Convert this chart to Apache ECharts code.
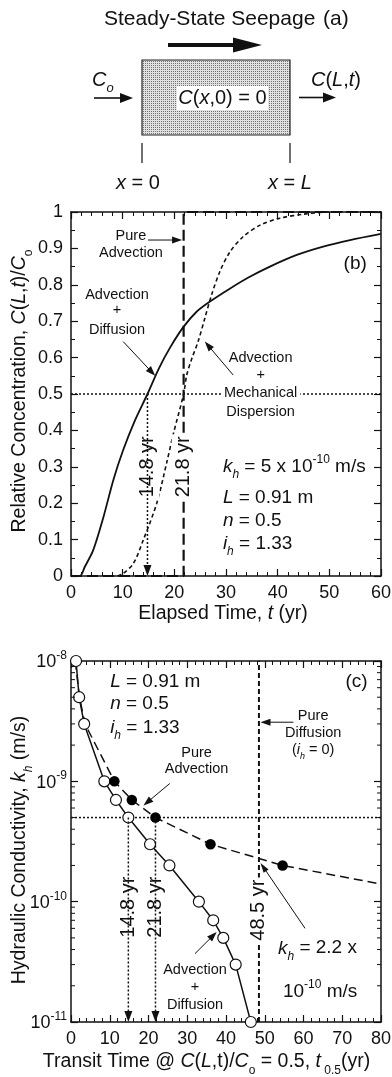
<!DOCTYPE html>
<html>
<head>
<meta charset="utf-8">
<script src="https://cdn.jsdelivr.net/npm/echarts@6/dist/echarts.min.js"></script>
<style>
  html, body { margin: 0; padding: 0; background: #fff; }
  #chart { width: 392px; height: 1077px; }
</style>
</head>
<body>
<div id="chart"></div>
<script>
const FONT = '"Liberation Sans", Arial, Helvetica, sans-serif';
const INK = '#111';

// ---- Panel (b): breakthrough curves, elapsed time (yr) vs C(L,t)/Co ----
const tAdvDiff = [0, 1.7, 2.7, 4.3, 6.3, 8.2, 10.1, 12.3, 14.8, 17.0, 19.2, 21.7, 24.3, 26.9, 30.8, 34.6, 38.5, 43.7, 48.8, 54.0, 60.0];
const cAdvDiff = [0, 0, 0.026, 0.071, 0.163, 0.264, 0.346, 0.425, 0.5, 0.57, 0.628, 0.683, 0.726, 0.754, 0.79, 0.822, 0.85, 0.882, 0.905, 0.923, 0.94];
const tAdvDisp = [9.0, 10.1, 12.1, 14.0, 16.6, 18.5, 19.8, 21.8, 22.4, 23.4, 24.6, 25.9, 27.2, 28.8, 30.8, 33.3, 36.6, 40.4, 45.0, 50.0, 60.0];
const cAdvDisp = [0, 0.007, 0.035, 0.099, 0.2, 0.31, 0.39, 0.5, 0.552, 0.598, 0.644, 0.708, 0.772, 0.836, 0.891, 0.932, 0.964, 0.983, 0.994, 1.0, 1.0];
const tPureAdvB = [0, 21.8, 21.8, 60];
const cPureAdvB = [0, 0, 1, 1];
const halfLevel = 0.5;
const tHalfDiff = 14.8;   // advection + diffusion
const tHalfAdv = 21.8;    // pure advection

// ---- Panel (c): hydraulic conductivity (m/s) vs transit time t0.5 (yr) ----
const tOpen = [1.3, 2.1, 3.4, 8.6, 11.6, 14.8, 20.4, 25.4, 33.0, 36.7, 39.3, 42.5, 46.4];
const kOpen = [1e-8, 5e-9, 3e-9, 1e-9, 7e-10, 5e-10, 3e-10, 2e-10, 1e-10, 7e-11, 5e-11, 3e-11, 1e-11];
const tFilled = [11.2, 15.7, 21.8, 36.0, 54.6];
const kFilled = [1e-9, 7e-10, 5e-10, 3e-10, 2e-10];
const tAdvLine = [1.1, 2.2, 3.6, 11.2, 15.7, 21.8, 36.0, 54.6, 80];
const kAdvLine = [1e-8, 5e-9, 3e-9, 1e-9, 7e-10, 5e-10, 3e-10, 2e-10, 1.4e-10];
const tPureDiff = 48.5;
const kRef = 5e-10;
const kDecades = [1e-11, 1e-10, 1e-9, 1e-8];
const kDecadeExp = ['-11', '-10', '-9', '-8'];
const minorMantissa = [2, 3, 4, 5, 6, 7, 8, 9];
const kMinor = [];
[1e-11, 1e-10, 1e-9].forEach(d => minorMantissa.forEach(m => kMinor.push(m * d)));

const zip = (a, b) => a.map((v, i) => [v, b[i]]);

function xAxisOpt(grid, pos, max, showLabel) {
  return {
    type: 'value', gridIndex: grid, position: pos, min: 0, max: max, interval: 10,
    axisLine: { show: true, onZero: false, lineStyle: { color: INK, width: 1.5 } },
    axisTick: { show: true, inside: true, length: 7, lineStyle: { color: INK, width: 1.2 } },
    minorTick: { show: true, splitNumber: 5, length: 4, lineStyle: { color: INK, width: 1 } },
    splitLine: { show: false }, minorSplitLine: { show: false },
    axisLabel: { show: showLabel, margin: 8, fontSize: 18, fontFamily: FONT, color: INK }
  };
}
function yAxisB(pos, showLabel) {
  return {
    type: 'value', gridIndex: 0, position: pos, min: 0, max: 1, interval: 0.1,
    axisLine: { show: true, onZero: false, lineStyle: { color: INK, width: 1.5 } },
    axisTick: { show: true, inside: true, length: 7, lineStyle: { color: INK, width: 1.2 } },
    minorTick: { show: true, splitNumber: 2, length: 4, lineStyle: { color: INK, width: 1 } },
    splitLine: { show: false }, minorSplitLine: { show: false },
    axisLabel: { show: showLabel, margin: 8, fontSize: 18, fontFamily: FONT, color: INK }
  };
}
function yAxisC(pos) {
  return {
    type: 'log', logBase: 10, gridIndex: 1, position: pos, min: 1e-11, max: 1e-8,
    axisLine: { show: true, onZero: false, lineStyle: { color: INK, width: 1.5 } },
    axisTick: { show: true, inside: true, length: 7, lineStyle: { color: INK, width: 1.2 } },
    minorTick: { show: false },
    splitLine: { show: false }, minorSplitLine: { show: false },
    axisLabel: { show: false }
  };
}

const chart = echarts.init(document.getElementById('chart'), null, { renderer: 'canvas', width: 392, height: 1077 });

chart.setOption({
  animation: false,
  backgroundColor: '#fff',
  grid: [
    { left: 71, top: 212, width: 310, height: 364, outerBoundsMode: 'none' },
    { left: 71, top: 661, width: 310, height: 361, outerBoundsMode: 'none' }
  ],
  xAxis: [xAxisOpt(0, 'bottom', 60, true), xAxisOpt(0, 'top', 60, false),
          xAxisOpt(1, 'bottom', 80, true), xAxisOpt(1, 'top', 80, false)],
  yAxis: [yAxisB('left', true), yAxisB('right', false), yAxisC('left'), yAxisC('right')],
  series: [
    // (b) advection + diffusion
    { type: 'line', xAxisIndex: 0, yAxisIndex: 0, data: zip(tAdvDiff, cAdvDiff), symbol: 'none',
      smooth: 0.3, clip: false, z: 5, lineStyle: { color: INK, width: 1.8 } },
    // (b) advection + mechanical dispersion
    { type: 'line', xAxisIndex: 0, yAxisIndex: 0, data: zip(tAdvDisp, cAdvDisp), symbol: 'none',
      smooth: 0.3, clip: false, z: 5, lineStyle: { color: INK, width: 1.6, type: [4, 3] } },
    // (b) pure advection step
    { type: 'line', xAxisIndex: 0, yAxisIndex: 0, data: zip(tPureAdvB, cPureAdvB), symbol: 'none',
      clip: false, z: 4, lineStyle: { color: INK, width: 2.2, type: [11, 5] } },
    // (b) C/Co = 0.5 reference
    { type: 'line', xAxisIndex: 0, yAxisIndex: 0, data: [[0, halfLevel], [60, halfLevel]], symbol: 'none',
      z: 3, lineStyle: { color: INK, width: 1.5, type: [2, 2] } },
    // (c) pure advection (dashed, filled markers)
    { type: 'line', xAxisIndex: 2, yAxisIndex: 2, data: zip(tAdvLine, kAdvLine), symbol: 'none',
      clip: false, z: 4, lineStyle: { color: INK, width: 1.5, type: [9, 5] } },
    { type: 'scatter', xAxisIndex: 2, yAxisIndex: 2, data: zip(tFilled, kFilled), symbol: 'circle',
      symbolSize: 10.5, clip: false, z: 7, itemStyle: { color: '#000', opacity: 1 } },
    // (c) advection + diffusion (solid, open markers)
    { type: 'line', xAxisIndex: 2, yAxisIndex: 2, data: zip(tOpen, kOpen), symbol: 'circle', symbolSize: 11,
      showSymbol: true, clip: false, z: 6, lineStyle: { color: INK, width: 1.5 },
      itemStyle: { color: '#fff', borderColor: INK, borderWidth: 1.2 } },
    // (c) pure diffusion transit time
    { type: 'line', xAxisIndex: 2, yAxisIndex: 2, data: [[tPureDiff, 1e-11], [tPureDiff, 1e-8]], symbol: 'none',
      z: 3, lineStyle: { color: INK, width: 2, type: [5, 3] } },
    // (c) k = 5e-10 reference
    { type: 'line', xAxisIndex: 2, yAxisIndex: 2, data: [[0, kRef], [80, kRef]], symbol: 'none',
      z: 3, lineStyle: { color: INK, width: 1.5, type: [2, 2] } },
    // (c) minor log ticks on both sides
    { type: 'custom', xAxisIndex: 2, yAxisIndex: 2, data: kMinor.map(k => [0, k]), clip: false, z: 8,
      renderItem: (params, api) => {
        const y = api.coord([0, api.value(1)])[1];
        const xl = params.coordSys.x, xr = xl + params.coordSys.width;
        return { type: 'group', children: [
          { type: 'line', shape: { x1: xl, y1: y, x2: xl + 4, y2: y }, style: { stroke: INK, lineWidth: 1 } },
          { type: 'line', shape: { x1: xr, y1: y, x2: xr - 4, y2: y }, style: { stroke: INK, lineWidth: 1 } }
        ] };
      } }
  ]
});

// ---- text and arrow helpers for annotations ----
const mctx = document.createElement('canvas').getContext('2d');
const fontStr = (size, italic) => (italic ? 'italic ' : '') + size + 'px ' + FONT;
function measure(t, size, italic) { mctx.font = fontStr(size, italic); return mctx.measureText(t).width; }

// parts: [text, flags] where flags may hold 'i' italic, 'b' subscript, 'p' superscript
function textRow(parts, size) {
  const small = Math.round(size * 0.64);
  let x = 0;
  const els = [];
  parts.forEach(([t, f = '']) => {
    const it = f.includes('i'), sub = f.includes('b'), sup = f.includes('p');
    const s = (sub || sup) ? small : size;
    const dy = sub ? size * 0.42 : sup ? -size * 0.38 : 0;
    els.push({ type: 'text', x: x, y: dy, z: 60,
      style: { text: t, font: fontStr(s, it), fill: INK, align: 'left', verticalAlign: 'middle' } });
    x += measure(t, s, it);
  });
  return { els, width: x };
}
function label(p, parts, o = {}) {
  const size = o.size || 19;
  const row = textRow(parts, size);
  const anchor = o.align || 'center';
  const off = anchor === 'center' ? -row.width / 2 : anchor === 'right' ? -row.width : 0;
  row.els.forEach(e => { e.x += off; });
  const children = [];
  if (o.bg) {
    children.push({ type: 'rect', z: 55,
      shape: { x: off - o.bg, y: -size * 0.6, width: row.width + 2 * o.bg, height: size * 1.2 },
      style: { fill: '#fff' } });
  }
  return { type: 'group', x: p[0], y: p[1], rotation: o.rotate || 0, z: 60, children: children.concat(row.els) };
}
function arrow(p1, p2, o = {}) {
  const len = o.head || 10, hw = o.hw || 3.5;
  const dx = p2[0] - p1[0], dy = p2[1] - p1[1], d = Math.hypot(dx, dy);
  const ux = dx / d, uy = dy / d;
  const bx = p2[0] - ux * len, by = p2[1] - uy * len;
  return [
    { type: 'line', z: 58, shape: { x1: p1[0], y1: p1[1], x2: bx + ux, y2: by + uy },
      style: { stroke: INK, lineWidth: o.w || 1, lineDash: o.dash || null } },
    { type: 'polygon', z: 58, shape: { points: [[p2[0], p2[1]], [bx - uy * hw, by + ux * hw], [bx + uy * hw, by - ux * hw]] },
      style: { fill: INK } }
  ];
}

const pb = (x, y) => chart.convertToPixel({ seriesIndex: 0 }, [x, y]);
const pc = (x, y) => chart.convertToPixel({ seriesIndex: 6 }, [x, y]);
const G = [];
const UP = Math.PI / 2;

// ---- Panel (a): column schematic ----
const dots = document.createElement('canvas');
dots.width = 2; dots.height = 2;
const dctx = dots.getContext('2d');
dctx.fillStyle = '#e2e2e2'; dctx.fillRect(0, 0, 2, 2);
dctx.fillStyle = '#707070'; dctx.fillRect(1, 1, 1, 1);

G.push(label([104, 19], [['Steady-State Seepage']], { size: 21, align: 'left' }));
G.push(label([323, 19], [['(a)']], { size: 21, align: 'left' }));
G.push({ type: 'line', z: 58, shape: { x1: 168, y1: 45, x2: 236, y2: 45 }, style: { stroke: INK, lineWidth: 4 } });
G.push({ type: 'polygon', z: 58, shape: { points: [[262, 45], [233, 37.5], [233, 52.5]] }, style: { fill: INK } });
G.push({ type: 'rect', z: 50, shape: { x: 142, y: 60, width: 148, height: 75 },
  style: { fill: { image: dots, repeat: 'repeat' }, stroke: '#222', lineWidth: 1.2 } });
G.push(label([222.5, 98], [['C', 'i'], ['('], ['x', 'i'], [',0) = 0']], { size: 20, bg: 1.5 }));
G.push(label([92, 80], [['C', 'i'], ['o', 'ib']], { size: 20, align: 'left' }));
G.push(...arrow([94, 98], [133, 98], { w: 1.6, head: 13, hw: 5 }));
G.push(label([311, 80], [['C', 'i'], ['('], ['L', 'i'], [','], ['t', 'i'], [')']], { size: 20, align: 'left' }));
G.push(...arrow([299, 97.5], [336, 97.5], { w: 1.6, head: 13, hw: 5 }));
G.push({ type: 'line', z: 58, shape: { x1: 142, y1: 143, x2: 142, y2: 163 }, style: { stroke: INK, lineWidth: 1.2 } });
G.push({ type: 'line', z: 58, shape: { x1: 290, y1: 143, x2: 290, y2: 163 }, style: { stroke: INK, lineWidth: 1.2 } });
G.push(label([138, 183], [['x', 'i'], [' = 0']], { size: 20 }));
G.push(label([290, 183], [['x', 'i'], [' = '], ['L', 'i']], { size: 20 }));

// ---- Panel (b) annotations ----
G.push(label([20, 391], [['Relative Concentration, '], ['C', 'i'], ['('], ['L', 'i'], [','], ['t', 'i'], [')/'], ['C', 'i'], ['o', 'b']], { size: 19.5, rotate: UP }));
G.push(label([223, 614], [['Elapsed Time, '], ['t', 'i'], [' (yr)']], { size: 19.5 }));
G.push(label(pb(11.6, 0.933), [['Pure']], { size: 14.5 }));
G.push(label(pb(11.6, 0.888), [['Advection']], { size: 14.5 }));
G.push(...arrow(pb(14.9, 0.923), pb(21.5, 0.923)));
G.push(label(pb(8.9, 0.772), [['Advection']], { size: 14.5 }));
G.push(label(pb(8.9, 0.731), [['+']], { size: 14.5 }));
G.push(label(pb(8.9, 0.676), [['Diffusion']], { size: 14.5 }));
G.push(...arrow(pb(10.1, 0.644), pb(16.3, 0.55)));
G.push(label(pb(36.7, 0.598), [['Advection']], { size: 14.5 }));
G.push(label(pb(36.7, 0.552), [['+']], { size: 14.5 }));
G.push(label(pb(36.7, 0.502), [['Mechanical']], { size: 14.5, bg: 3 }));
G.push(label(pb(36.7, 0.451), [['Dispersion']], { size: 14.5 }));
G.push(...arrow(pb(31.4, 0.552), pb(25.9, 0.644)));
G.push(label(pb(55, 0.859), [['(b)']], { size: 19 }));
G.push(label(pb(29.4, 0.30), [['k', 'i'], ['h', 'ib'], [' = 5 x 10'], ['-10', 'p'], [' m/s']], { size: 19, align: 'left' }));
G.push(label(pb(29.4, 0.214), [['L', 'i'], [' = 0.91 m']], { size: 19, align: 'left' }));
G.push(label(pb(29.4, 0.152), [['n', 'i'], [' = 0.5']], { size: 19, align: 'left' }));
G.push(label(pb(29.4, 0.088), [['i', 'i'], ['h', 'ib'], [' = 1.33']], { size: 19, align: 'left' }));
G.push(...arrow(pb(tHalfDiff, halfLevel), pb(tHalfDiff, 0), { dash: [2, 2], w: 1.5, head: 11, hw: 4 }));
G.push(label(pb(tHalfDiff, 0.30), [[tHalfDiff + ' yr']], { size: 20, rotate: UP, bg: 2 }));
G.push(label(pb(tHalfAdv, 0.30), [[tHalfAdv + ' yr']], { size: 20, rotate: UP, bg: 2 }));

// ---- Panel (c) annotations ----
G.push(label([20, 850], [['Hydraulic Conductivity, '], ['k', 'i'], ['h', 'ib'], [' (m/s)']], { size: 19.5, rotate: UP }));
G.push(label([206.5, 1062], [['Transit Time @ '], ['C', 'i'], ['('], ['L', 'i'], [',t)/'], ['C', 'i'], ['o', 'b'],
  [' = 0.5, '], ['t', 'i'], [' 0.5', 'b'], ['(yr)']], { size: 19.5 }));
kDecades.forEach((k, i) => {
  const p = pc(0, k);
  G.push(label([p[0] - 4, p[1] + 1.5], [['10'], [kDecadeExp[i], 'p']], { size: 18, align: 'right' }));
});
G.push(label(pc(10.1, 6.7e-9), [['L', 'i'], [' = 0.91 m']], { size: 19, align: 'left' }));
G.push(label(pc(10.1, 4.45e-9), [['n', 'i'], [' = 0.5']], { size: 19, align: 'left' }));
G.push(label(pc(10.1, 2.81e-9), [['i', 'i'], ['h', 'ib'], [' = 1.33']], { size: 19, align: 'left' }));
G.push(label(pc(73.7, 6.7e-9), [['(c)']], { size: 19 }));
G.push(label(pc(62.5, 3.5e-9), [['Pure']], { size: 14.5 }));
G.push(label(pc(62.5, 2.5e-9), [['Diffusion']], { size: 14.5 }));
G.push(label(pc(62.5, 1.82e-9), [['('], ['i', 'i'], ['h', 'ib'], [' = 0)']], { size: 14.5 }));
G.push(...arrow(pc(57.4, 3.1e-9), pc(48.9, 3.1e-9)));
G.push(label(pc(32.4, 1.73e-9), [['Pure']], { size: 14.5 }));
G.push(label(pc(32.4, 1.26e-9), [['Advection']], { size: 14.5 }));
G.push(...arrow(pc(25.5, 9.6e-10), pc(18.7, 6.3e-10)));
G.push(label(pc(32, 2.7e-11), [['Advection']], { size: 14.5 }));
G.push(label(pc(32, 1.96e-11), [['+']], { size: 14.5 }));
G.push(label(pc(32, 1.38e-11), [['Diffusion']], { size: 14.5 }));
G.push(...arrow(pc(32, 3.7e-11), pc(37.6, 5.6e-11)));
G.push(label(pc(53.4, 4.1e-11), [['k', 'i'], ['h', 'ib'], [' = 2.2 x']], { size: 19, align: 'left' }));
G.push(label(pc(54.7, 1.78e-11), [['10'], ['-10', 'p'], [' m/s']], { size: 19, align: 'left' }));
G.push(...arrow(pc(60.4, 6.0e-11), pc(48.9, 2.1e-10), { hw: 3 }));
[tHalfDiff, tHalfAdv].forEach(t => {
  G.push(...arrow(pc(t, kRef), pc(t, 1e-11), { dash: [2, 2], w: 1.5, head: 11, hw: 4 }));
  G.push(label(pc(t, 9e-11), [[t + ' yr']], { size: 20, rotate: UP, bg: 2 }));
});
G.push(label(pc(tPureDiff, 8.5e-11), [[tPureDiff + ' yr']], { size: 20, rotate: UP, bg: 2 }));

chart.setOption({ graphic: { elements: G } });
</script>
</body>
</html>
